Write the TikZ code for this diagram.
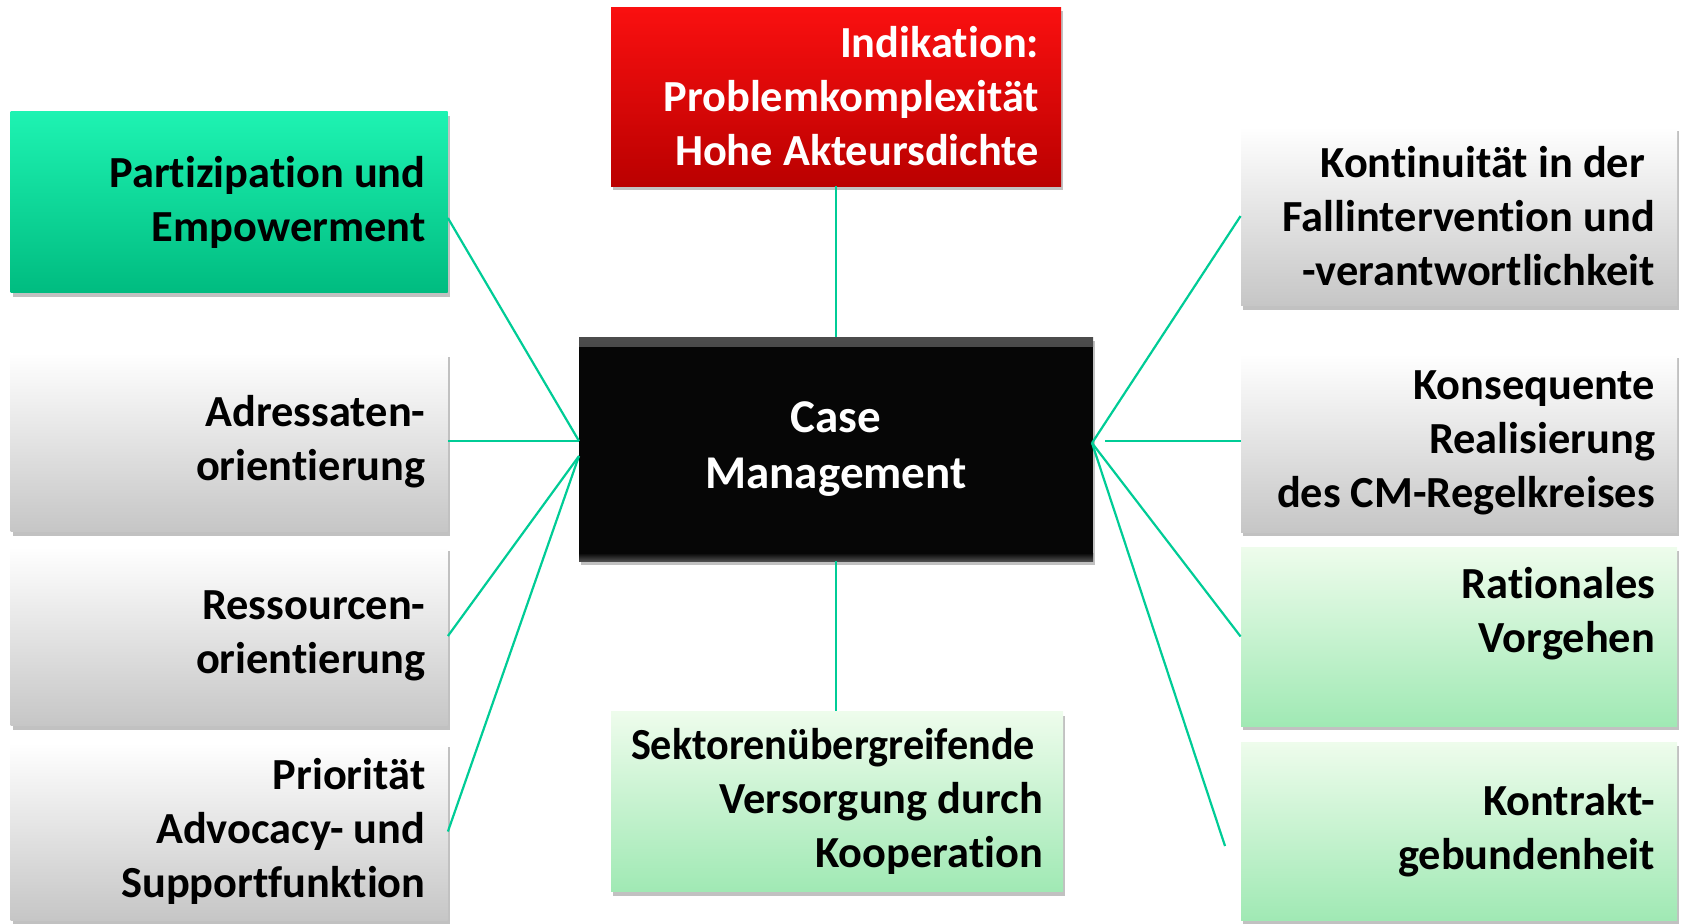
\documentclass[tikz,border=0pt]{standalone}
\usepackage{fontspec}
\setmainfont{Carlito}[Ligatures={NoCommon}]
\usetikzlibrary{shadows,calc}
\definecolor{conn}{RGB}{0,204,150}
\definecolor{tealT}{RGB}{30,243,178}
\definecolor{tealM}{RGB}{12,222,158}
\definecolor{tealB}{RGB}{0,188,128}
\definecolor{redT}{RGB}{250,16,16}
\definecolor{redM}{RGB}{242,6,6}
\definecolor{redB}{RGB}{186,0,0}
\definecolor{grayT}{RGB}{255,255,255}
\definecolor{grayM}{RGB}{240,240,240}
\definecolor{grayB}{RGB}{198,198,198}
\definecolor{grnT}{RGB}{238,252,236}
\definecolor{grnM}{RGB}{206,245,210}
\definecolor{grnB}{RGB}{160,233,180}
\definecolor{cmblack}{RGB}{6,6,6}
\newcommand\bxfont{\fontsize{22.2}{27}\selectfont\bfseries}
\newcommand\trailsp{\hbox to 0.23em{}}
\tikzset{
  box/.style={rectangle, inner xsep=11pt, inner ysep=0pt, align=flush right,
    font=\bxfont, text=black,
    drop shadow={shadow xshift=1.2pt, shadow yshift=-2pt, opacity=0.35, fill=black!70}},
  tealbox/.style={box, top color=tealT, middle color=tealM, bottom color=tealB},
  redbox/.style={box, top color=redT, middle color=redM, bottom color=redB, text=white},
  graybox/.style={box, top color=grayT, middle color=grayM, bottom color=grayB},
  grnbox/.style={box, top color=grnT, middle color=grnM, bottom color=grnB},
  cmbox/.style={box, fill=cmblack, text=white, align=flush center,
    font=\fontsize{23.5}{28}\selectfont\bfseries,
    path picture={
      \shade[top color=black!70, bottom color=cmblack]
        (path picture bounding box.north west) rectangle ([yshift=-4.5pt]path picture bounding box.north east);
      \shade[top color=cmblack, bottom color=black!70]
        ([yshift=4pt]path picture bounding box.south west) rectangle (path picture bounding box.south east);
    }},
  link/.style={draw=conn, line width=1.1pt}
}
\begin{document}
\begin{tikzpicture}[x=0.5pt,y=-0.5pt]
\useasboundingbox (0,0) rectangle (1681,923);
% left column
\node[tealbox, minimum height=90.5pt, text width=196.5pt] (part) at (229,202) {Partizipation und\\Empowerment};
\node[graybox, minimum height=89.5pt, text width=196.5pt] (adr) at (229,442) {Adressaten-\\orientierung};
\node[graybox, minimum height=89.5pt, text width=196.5pt] (res) at (229,636) {Ressourcen-\\orientierung};
\node[graybox, minimum height=88.5pt, text width=196.5pt] (prio) at (229,831.5) {Priorit\"at\\Advocacy- und\\Supportfunktion};
% centre column
\node[redbox, minimum height=89.5pt, text width=203pt] (ind) at (836,96.5) {Indikation:\\Problemkomplexit\"at\\Hohe Akteursdichte};
\node[cmbox, minimum height=112pt, text width=235pt] (cm) at (836,449) {Case\\Management};
\node[grnbox, inner xsep=10pt, minimum height=90pt, text width=206pt] (sek) at (837,801.5) {\scalebox{0.95}[1]{Sektoren\"ubergreifende}\trailsp\\Versorgung durch\\Kooperation};
% right column
\node[graybox, minimum height=89.5pt, text width=196pt] (kont) at (1459,216) {Kontinuit\"at in der\trailsp\\Fallintervention und\\-verantwortlichkeit};
\node[graybox, minimum height=89pt, text width=196pt] (kons) at (1459,443) {Konsequente\\Realisierung\\des CM-Regelkreises};
\node[grnbox, minimum height=89.5pt, text width=196pt] (rat) at (1459,636.5) {Rationales\\Vorgehen\\\mbox{}};
\node[grnbox, minimum height=89pt, text width=196pt] (ktr) at (1459,831) {Kontrakt-\\gebundenheit};
% connector coordinates
\coordinate (cmL1) at (579,441);
\coordinate (cmL2) at (579,456);
\coordinate (cmR) at (1092,443);
\coordinate (konsS) at (1105,441);
\coordinate (ktrE) at (1225,846);
% connectors
\draw[link] ([yshift=-8pt]part.east) -- (cmL1);
\draw[link] (adr.east |- cmL1) -- (cmL1);
\draw[link] (res.east) -- (cmL2);
\draw[link] (prio.east) -- (cmL2);
\draw[link] (ind.south) -- (cm.north);
\draw[link] (cm.south) -- (cm.south |- sek.north);
\draw[link] (kont.west) -- (cmR);
\draw[link] (konsS) -- (konsS -| kons.west);
\draw[link] (rat.west) -- (cmR);
\draw[link] (cmR) -- (ktrE);
\end{tikzpicture}
\end{document}
